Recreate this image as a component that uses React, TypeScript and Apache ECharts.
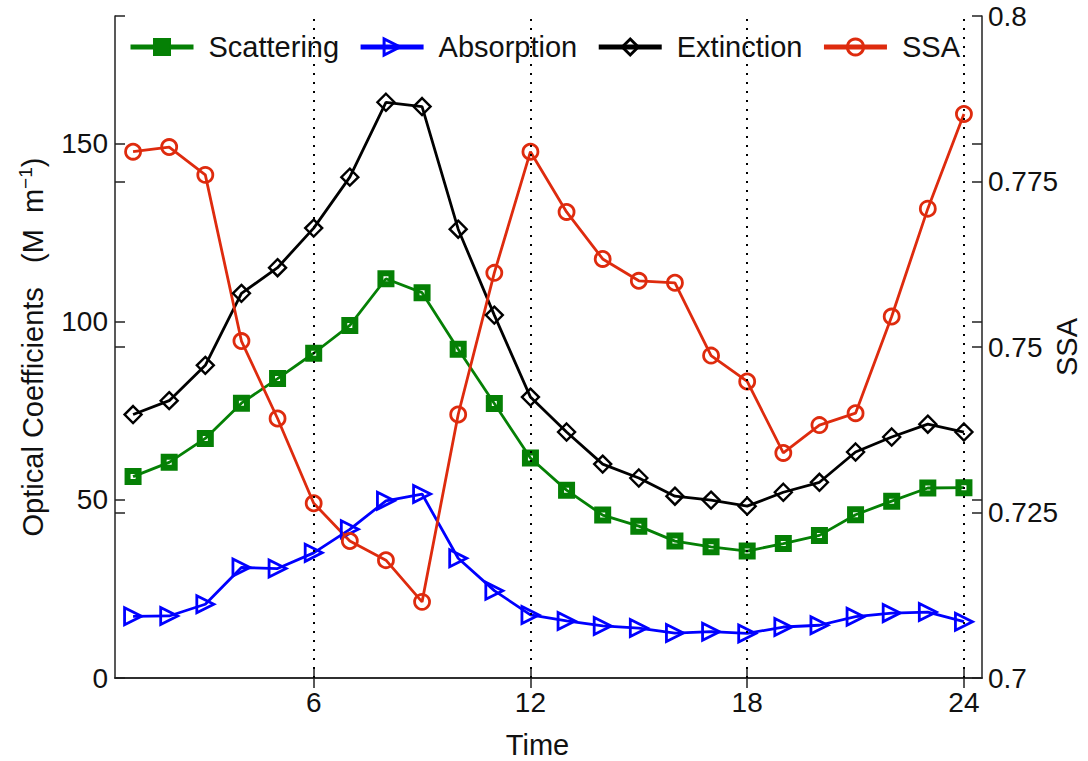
import React, { useEffect, useRef } from 'react';
import * as echarts from 'echarts';

const hours = [1, 2, 3, 4, 5, 6, 7, 8, 9, 10, 11, 12, 13, 14, 15, 16, 17, 18, 19, 20, 21, 22, 23, 24];
const scattering = [56.5, 60.5, 67.2, 77.1, 84.0, 91.1, 98.9, 112.0, 108.1, 92.2, 77.0, 61.7, 52.7, 45.7, 42.6, 38.4, 36.8, 35.6, 37.7, 40.0, 45.8, 49.6, 53.3, 53.4];
const absorption = [17.3, 17.4, 20.7, 31.0, 30.7, 35.1, 41.7, 49.7, 51.6, 33.6, 24.5, 17.7, 16.0, 14.6, 14.0, 12.6, 13.0, 12.5, 14.3, 14.8, 17.2, 18.2, 18.5, 15.8];
const extinction = [73.9, 77.8, 87.7, 107.9, 115.1, 126.2, 140.5, 161.5, 160.3, 125.9, 101.8, 78.8, 69.0, 60.0, 56.1, 51.0, 49.9, 48.2, 52.1, 54.9, 63.4, 67.6, 71.2, 69.0];
const ssa = [0.7795, 0.7802, 0.776, 0.7509, 0.7392, 0.7264, 0.7207, 0.7178, 0.7115, 0.7398, 0.7612, 0.7795, 0.7704, 0.7633, 0.76, 0.7597, 0.7487, 0.7448, 0.734, 0.7382, 0.74, 0.7546, 0.7709, 0.7852];

const xTicks = [6, 12, 18, 24];
const leftTicks = [0, 50, 100, 150];
const rightTicks = [0.7, 0.725, 0.75, 0.775, 0.8];
const xRange = [0.5, 24.5];
const leftRange = [0, 185.7];
const rightRange = [0.7, 0.8];

const FONT = '"Liberation Sans", Arial, Helvetica, sans-serif';
const TXT = '#111';
const AX = '#222';
const GREEN = '#058005';
const BLUE = '#0000ff';
const BLACK = '#000000';
const RED = '#de2b0e';

const pairs = (ys: number[]) => hours.map((h, i) => [h, ys[i]]);

export default function App() {
  const ref = useRef<HTMLDivElement>(null);
  useEffect(() => {
    if (!ref.current) return;
    const chart = echarts.init(ref.current, null, { renderer: 'svg' });
    const axisLineStyle = { color: AX, width: 1.5 };
    const tickIn = (vals: number[]) => ({
      show: true,
      inside: true,
      length: 10,
      customValues: vals,
      lineStyle: { color: AX, width: 1.5 },
    });
    const lineSeries = (
      name: string,
      data: number[],
      color: string,
      symbol: string,
      size: number,
      bw: number,
      yAxisIndex: number,
      extra: any = {}
    ) => ({
      name,
      type: 'line',
      xAxisIndex: 0,
      yAxisIndex,
      data: pairs(data),
      symbol,
      symbolSize: size,
      showSymbol: true,
      lineStyle: { color, width: 2.8 },
      itemStyle: { color: 'rgba(255,255,255,0)', borderColor: color, borderWidth: bw },
      emphasis: { disabled: true },
      ...extra,
    });
    chart.setOption({
      animation: false,
      backgroundColor: '#fff',
      textStyle: { fontFamily: FONT },
      grid: { left: 115, right: 106, top: 16, bottom: 83, containLabel: false, outerBoundsMode: 'none' },
      graphic: [
        {
          type: 'text',
          x: 1067,
          y: 347,
          rotation: Math.PI / 2,
          silent: true,
          style: {
            text: 'SSA',
            fontFamily: FONT,
            fontSize: 29,
            fill: TXT,
            align: 'center',
            verticalAlign: 'middle',
          },
        },
      ],
      legend: {
        top: 20,
        left: 'center',
        backgroundColor: '#fff',
        padding: [11, 8],
        itemWidth: 63,
        itemHeight: 20,
        itemGap: 19,
        lineStyle: { width: 5 },
        textStyle: { fontFamily: FONT, fontSize: 29, color: TXT, padding: [0, 0, 0, 10], lineHeight: 32 },
        data: [
          { name: 'Scattering', itemStyle: { color: GREEN, borderColor: GREEN, borderWidth: 2 } },
          { name: 'Absorption', itemStyle: { borderWidth: 3 } },
          { name: 'Extinction', itemStyle: { borderWidth: 3 } },
          { name: 'SSA', itemStyle: { borderWidth: 3 } },
        ],
      },
      xAxis: [
        {
          type: 'value',
          position: 'bottom',
          min: xRange[0],
          max: xRange[1],
          name: 'Time',
          nameLocation: 'middle',
          nameGap: 52,
          nameTextStyle: { fontFamily: FONT, fontSize: 29, color: TXT, padding: [0, 22, 0, 0] },
          axisLine: { show: true, lineStyle: axisLineStyle },
          axisTick: tickIn(xTicks),
          axisLabel: { show: true, customValues: xTicks, fontFamily: FONT, fontSize: 28, color: TXT, margin: 10 },
          splitLine: { show: false },
        },
        {
          type: 'value',
          position: 'top',
          min: xRange[0],
          max: xRange[1],
          axisLine: { show: true, lineStyle: axisLineStyle },
          axisTick: tickIn(xTicks),
          axisLabel: { show: false },
          splitLine: { show: false },
        },
      ],
      yAxis: [
        {
          type: 'value',
          position: 'left',
          min: leftRange[0],
          max: leftRange[1],
          name: 'Optical Coefficients   (M  m{sup|\u22121})',
          nameLocation: 'middle',
          nameRotate: 90,
          nameGap: 66,
          nameTextStyle: {
            fontFamily: FONT,
            fontSize: 29,
            color: TXT,
            rich: { sup: { fontFamily: FONT, fontSize: 19, color: TXT, verticalAlign: 'top', padding: [0, 0, 14, 0] } },
          },
          axisLine: { show: true, lineStyle: axisLineStyle },
          axisTick: tickIn(leftTicks),
          axisLabel: { show: true, customValues: leftTicks, fontFamily: FONT, fontSize: 28, color: TXT, margin: 7 },
          splitLine: { show: false },
        },
        {
          type: 'value',
          position: 'right',
          min: rightRange[0],
          max: rightRange[1],
          axisLine: { show: true, lineStyle: axisLineStyle },
          axisTick: tickIn(rightTicks),
          axisLabel: {
            show: true,
            customValues: rightTicks,
            fontFamily: FONT,
            fontSize: 28,
            color: TXT,
            margin: 6,
            formatter: (v: number) => String(parseFloat(v.toFixed(3))),
          },
          splitLine: { show: false },
        },
        {
          type: 'value',
          position: 'left',
          min: rightRange[0],
          max: rightRange[1],
          axisLine: { show: false },
          axisTick: tickIn(rightTicks),
          axisLabel: { show: false },
          splitLine: { show: false },
        },
        {
          type: 'value',
          position: 'right',
          min: leftRange[0],
          max: leftRange[1],
          axisLine: { show: false },
          axisTick: tickIn(leftTicks),
          axisLabel: { show: false },
          splitLine: { show: false },
        },
      ],
      series: [
        lineSeries('Scattering', scattering, GREEN, 'rect', 11, 6, 0, {
          markLine: {
            silent: true,
            symbol: ['none', 'none'],
            label: { show: false },
            lineStyle: { color: '#000', width: 2, type: [2, 7] },
            data: xTicks.map((t) => [{ coord: [t, leftRange[0]] }, { coord: [t, leftRange[1]] }]),
          },
        }),
        lineSeries('Absorption', absorption, BLUE, 'triangle', 17, 2.8, 0, { symbolRotate: -90 }),
        lineSeries('Extinction', extinction, BLACK, 'diamond', 17, 2.4, 0),
        lineSeries('SSA', ssa, RED, 'circle', 15, 2.8, 1),
      ],
    });
    return () => chart.dispose();
  }, []);
  return (
    <div
      ref={ref}
      style={{ position: 'absolute', left: 0, top: 0, width: 1088, height: 761, background: '#fff' }}
    />
  );
}
